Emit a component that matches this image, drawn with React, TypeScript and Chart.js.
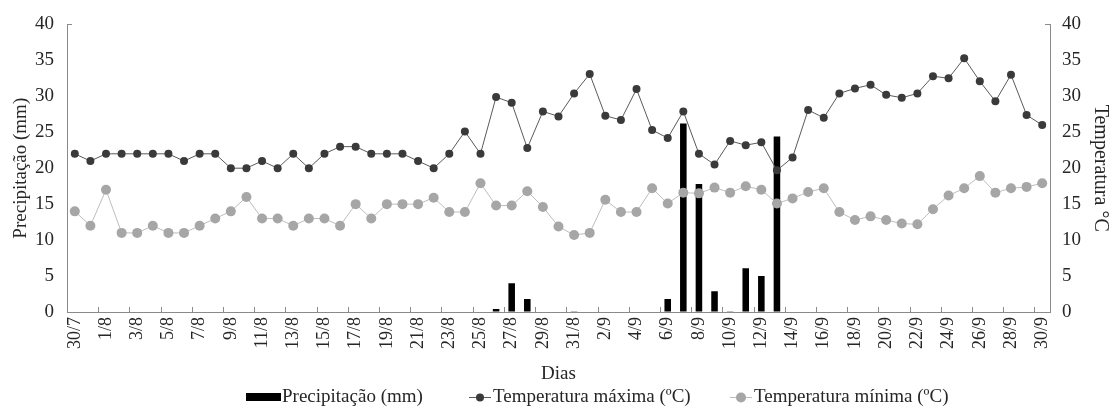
import React, { useEffect, useRef } from 'react';
import { Chart, registerables } from 'chart.js';

Chart.register(...registerables);

const days: string[] = [
  '30/7', '31/7',
  '1/8', '2/8', '3/8', '4/8', '5/8', '6/8', '7/8', '8/8', '9/8', '10/8',
  '11/8', '12/8', '13/8', '14/8', '15/8', '16/8', '17/8', '18/8', '19/8', '20/8',
  '21/8', '22/8', '23/8', '24/8', '25/8', '26/8', '27/8', '28/8', '29/8', '30/8', '31/8',
  '1/9', '2/9', '3/9', '4/9', '5/9', '6/9', '7/9', '8/9', '9/9', '10/9',
  '11/9', '12/9', '13/9', '14/9', '15/9', '16/9', '17/9', '18/9', '19/9', '20/9',
  '21/9', '22/9', '23/9', '24/9', '25/9', '26/9', '27/9', '28/9', '29/9', '30/9',
];

const precipitation: number[] = [
  0, 0,
  0, 0, 0, 0, 0, 0, 0, 0, 0, 0,
  0, 0, 0, 0, 0, 0, 0, 0, 0, 0,
  0, 0, 0, 0, 0, 0.4, 4.0, 1.8, 0, 0, 0.1,
  0, 0, 0, 0, 0, 1.8, 26.2, 17.8, 2.9, 0.1,
  6.1, 5.0, 24.4, 0, 0, 0, 0, 0, 0, 0,
  0, 0, 0, 0, 0, 0, 0, 0, 0, 0,
];

const tempMax: number[] = [
  22, 21,
  22, 22, 22, 22, 22, 21, 22, 22, 20, 20,
  21, 20, 22, 20, 22, 23, 23, 22, 22, 22,
  21, 20, 22, 25.1, 22, 29.9, 29.1, 22.8, 27.9, 27.2, 30.4,
  33.1, 27.3, 26.7, 31.0, 25.3, 24.2, 27.9, 22.0, 20.5, 23.8,
  23.2, 23.6, 19.7, 21.5, 28.1, 27.0, 30.4, 31.1, 31.6, 30.2,
  29.8, 30.4, 32.8, 32.5, 35.3, 32.1, 29.3, 33.0, 27.4, 26.0,
];

const tempMin: number[] = [
  14, 12,
  17, 11, 11, 12, 11, 11, 12, 13, 14, 16,
  13, 13, 12, 13, 13, 12, 15, 13, 15, 15,
  15, 15.9, 13.9, 13.9, 17.9, 14.8, 14.8, 16.8, 14.6, 11.9, 10.7,
  11.0, 15.6, 13.9, 13.9, 17.2, 15.1, 16.6, 16.5, 17.3, 16.6,
  17.5, 17.0, 15.1, 15.8, 16.7, 17.2, 13.9, 12.8, 13.3, 12.8,
  12.3, 12.2, 14.3, 16.2, 17.2, 18.9, 16.6, 17.2, 17.4, 17.9,
];

const yTicks: number[] = [0, 5, 10, 15, 20, 25, 30, 35, 40];

const FONT = "'Liberation Serif', 'Times New Roman', serif";
const AXIS_COLOR = '#8a8a8a';
const TEXT_COLOR = '#262626';
const MAX_POINT = '#3a3a3a';
const MAX_LINE = '#5a5a5a';
const MIN_POINT = '#a6a6a6';
const MIN_LINE = '#bdbdbd';

const legendEntries = [
  { label: 'Precipitação (mm)', kind: 'bar', x: 246 },
  { label: 'Temperatura máxima (ºC)', kind: 'max', x: 469 },
  { label: 'Temperatura mínima (ºC)', kind: 'min', x: 730 },
];

const decorPlugin = {
  id: 'decor',
  afterDraw(chart: any) {
    const { ctx, chartArea, scales } = chart;
    const xs = scales.x;
    ctx.save();
    ctx.strokeStyle = AXIS_COLOR;
    ctx.lineWidth = 1;
    // inside tick marks on x axis, every two categories
    for (let k = 2; k < days.length; k += 2) {
      const px = Math.round((xs.getPixelForValue(k - 1) + xs.getPixelForValue(k)) / 2) + 0.5;
      ctx.beginPath();
      ctx.moveTo(px, chartArea.bottom);
      ctx.lineTo(px, chartArea.bottom - 5);
      ctx.stroke();
    }
    // caps at top of the value axes
    const top = Math.round(chartArea.top) + 0.5;
    ctx.beginPath();
    ctx.moveTo(chartArea.left, top);
    ctx.lineTo(chartArea.left + 5, top);
    ctx.moveTo(chartArea.right - 5, top);
    ctx.lineTo(chartArea.right, top);
    ctx.stroke();

    // legend
    const ly = 397;
    ctx.font = `19px ${FONT}`;
    ctx.textBaseline = 'middle';
    ctx.textAlign = 'left';
    for (const e of legendEntries) {
      let tx = e.x;
      if (e.kind === 'bar') {
        ctx.fillStyle = '#000';
        ctx.fillRect(e.x, ly - 4, 35, 8);
        tx = e.x + 36;
      } else {
        const isMax = e.kind === 'max';
        ctx.strokeStyle = isMax ? MAX_LINE : MIN_LINE;
        ctx.beginPath();
        ctx.moveTo(e.x, ly + 0.5);
        ctx.lineTo(e.x + 22, ly + 0.5);
        ctx.stroke();
        ctx.fillStyle = isMax ? MAX_POINT : MIN_POINT;
        ctx.beginPath();
        ctx.arc(e.x + 11, ly + 0.5, isMax ? 4 : 5, 0, Math.PI * 2);
        ctx.fill();
        tx = e.x + 24;
      }
      ctx.fillStyle = TEXT_COLOR;
      ctx.fillText(e.label, tx, ly);
    }
    ctx.restore();
  },
};

export default function App() {
  const canvasRef = useRef<HTMLCanvasElement | null>(null);

  useEffect(() => {
    document.body.style.margin = '0';
    const canvas = canvasRef.current;
    if (!canvas) return;
    const chart = new Chart(canvas, {
      type: 'bar',
      data: {
        labels: days,
        datasets: [
          {
            type: 'line',
            label: 'Temperatura máxima (ºC)',
            data: tempMax,
            yAxisID: 'y1',
            borderColor: MAX_LINE,
            borderWidth: 1,
            backgroundColor: MAX_POINT,
            pointBackgroundColor: MAX_POINT,
            pointBorderColor: MAX_POINT,
            pointRadius: 4,
            pointBorderWidth: 0,
            tension: 0,
            order: 1,
          } as any,
          {
            type: 'line',
            label: 'Temperatura mínima (ºC)',
            data: tempMin,
            yAxisID: 'y1',
            borderColor: MIN_LINE,
            borderWidth: 1,
            backgroundColor: MIN_POINT,
            pointBackgroundColor: MIN_POINT,
            pointBorderColor: MIN_POINT,
            pointRadius: 5,
            pointBorderWidth: 0,
            tension: 0,
            order: 2,
          } as any,
          {
            type: 'bar',
            label: 'Precipitação (mm)',
            data: precipitation,
            yAxisID: 'y',
            backgroundColor: '#000',
            borderWidth: 0,
            categoryPercentage: 1,
            barPercentage: 0.42,
            order: 3,
          } as any,
        ],
      },
      options: {
        responsive: false,
        animation: false,
        layout: { padding: { top: 20, left: 0, right: 0, bottom: 0 } },
        plugins: {
          legend: { display: false },
          tooltip: { enabled: false },
        },
        scales: {
          x: {
            offset: true,
            grid: { display: true, color: 'transparent', drawTicks: false, offset: true },
            border: { display: true, color: AXIS_COLOR, width: 1 },
            ticks: {
              autoSkip: false,
              minRotation: 90,
              maxRotation: 90,
              padding: 5,
              color: TEXT_COLOR,
              font: { family: FONT, size: 18 },
              callback: (_v: any, i: number) => (i % 2 === 0 ? days[i] : ''),
            },
            title: {
              display: true,
              text: 'Dias',
              color: TEXT_COLOR,
              font: { family: FONT, size: 19 },
              padding: { top: 0, bottom: 22 },
            },
            afterFit: (s: any) => { s.height = 95; },
          },
          y: {
            position: 'left',
            min: 0,
            max: 40,
            afterBuildTicks: (s: any) => { s.ticks = yTicks.map((v) => ({ value: v })); },
            grid: { display: true, color: 'transparent', drawTicks: false },
            border: { display: true, color: AXIS_COLOR, width: 1 },
            ticks: {
              padding: 13,
              color: TEXT_COLOR,
              font: { family: FONT, size: 19 },
            },
            title: {
              display: true,
              text: 'Precipitação (mm)',
              color: TEXT_COLOR,
              font: { family: FONT, size: 19 },
              padding: { top: 10, bottom: 0 },
            },
            afterFit: (s: any) => { s.width = 67; },
          },
          y1: {
            position: 'right',
            min: 0,
            max: 40,
            afterBuildTicks: (s: any) => { s.ticks = yTicks.map((v) => ({ value: v })); },
            grid: { display: true, color: 'transparent', drawTicks: false, drawOnChartArea: false },
            border: { display: true, color: AXIS_COLOR, width: 1 },
            ticks: {
              padding: 12,
              color: TEXT_COLOR,
              font: { family: FONT, size: 19 },
            },
            title: {
              display: true,
              text: 'Temperatura °C',
              color: TEXT_COLOR,
              font: { family: FONT, size: 20 },
              padding: { top: 1, bottom: 0 },
            },
            afterFit: (s: any) => { s.width = 63; },
          },
        },
      } as any,
      plugins: [decorPlugin],
    });
    return () => chart.destroy();
  }, []);

  return (
    <div style={{ width: 1113, height: 407 }}>
      <canvas ref={canvasRef} width={1113} height={407} style={{ display: 'block' }} />
    </div>
  );
}
